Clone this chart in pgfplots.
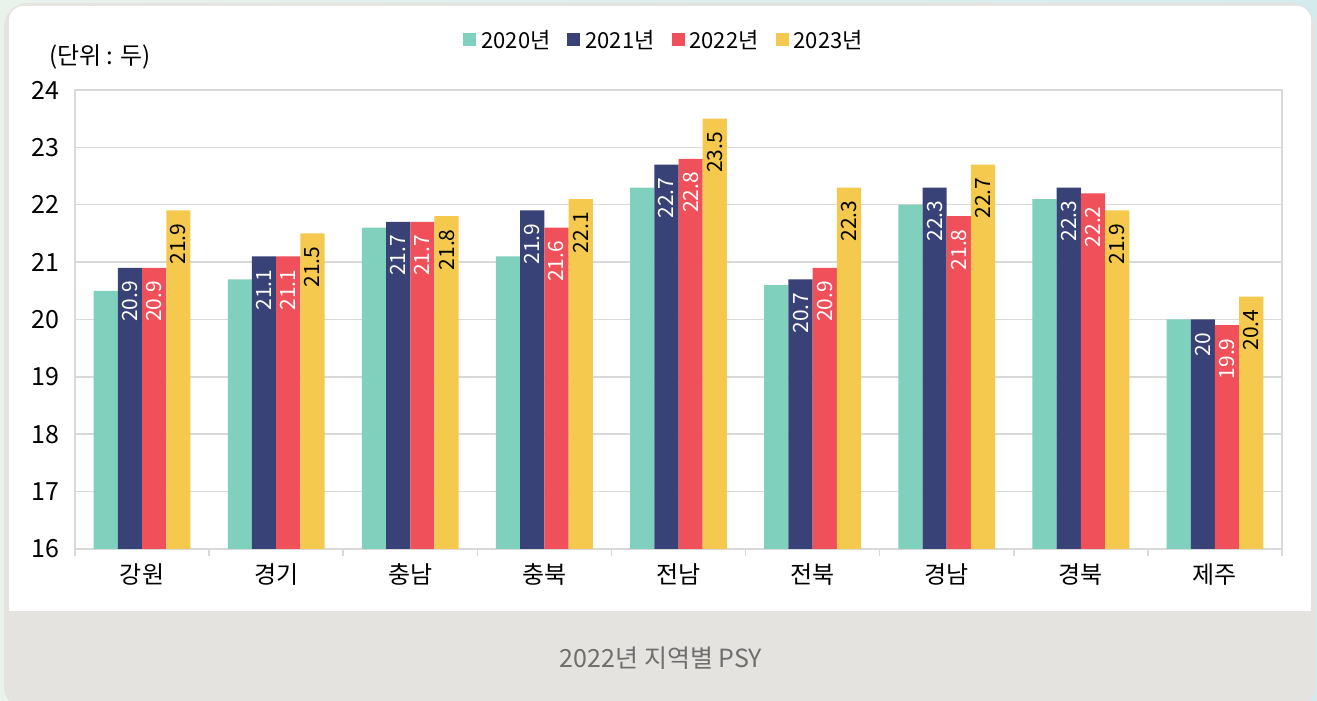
\documentclass[border=0pt]{standalone}
\usepackage{pgfplots}
\pgfplotsset{compat=1.18}
\usepackage{fontspec}
\setmainfont{Noto Sans CJK KR}
\definecolor{cA}{HTML}{7FD1BE}
\definecolor{cB}{HTML}{384277}
\definecolor{cC}{HTML}{EF505A}
\definecolor{cD}{HTML}{F5C84E}
\definecolor{gridgray}{HTML}{D9D9D9}
\definecolor{band}{HTML}{E4E3DF}
\definecolor{bgL}{HTML}{EAF2EC}
\definecolor{bgR}{HTML}{D4EBEE}
\definecolor{titlegray}{HTML}{6E6E6E}
\newcommand{\fs}[1]{\fontsize{#1bp}{#1bp}\selectfont}
\pgfplotsset{
  sq legend/.style={legend image code/.code={\fill[##1] (0bp,-6.5bp) rectangle (13bp,6.5bp);}},
  vlabel/.style={nodes near coords,
    every node near coord/.append style={rotate=90, anchor=east, inner xsep=13bp,
      inner ysep=0pt, font=\fs{21}, text=#1}},
}
\begin{document}
\begin{tikzpicture}[x=1bp,y=1bp]
\useasboundingbox (0,0) rectangle (1317,700);
\shade[left color=bgL, right color=bgR] (0,0) rectangle (1317,700);
\fill[band, rounded corners=24bp] (4,-10) rectangle (1315,697);
\fill[white, rounded corners=14bp] (9,89) rectangle (1311,694);
\fill[white] (9,89) rectangle (1311,130);
\node[font=\fs{24}] at (100,643) {(단위 : 두)};
\node[font=\fs{25}, text=titlegray] at (661,42) {2022년 지역별 PSY};
\begin{axis}[
  at={(75bp,151bp)}, anchor=south west,
  scale only axis, width=1207bp, height=459bp,
  ybar=0pt, bar width=24.2bp,
  xmin=-0.5, xmax=8.5, ymin=16, ymax=24,
  xtick={0,...,8},
  xticklabels={강원,경기,충남,충북,전남,전북,경남,경북,제주},
  minor xtick={-0.5,0.5,...,8.5},
  ytick={16,...,24},
  xtick pos=lower, ytick pos=left,
  major tick length=0pt, minor tick length=7bp, tick align=outside,
  minor tick style={draw=gridgray, line width=1.5bp},
  axis line style={draw=gridgray, line width=1.5bp},
  ymajorgrids, grid style={draw=gridgray, line width=1.5bp},
  /pgf/number format/assume math mode=true,
  xticklabel style={font=\fs{24}, yshift=-11bp},
  yticklabel style={font=\fs{25}, xshift=-12bp},
  legend style={at={(0.488,1.109)}, anchor=center, draw=none, fill=none,
    legend columns=4, font=\fs{22},
    /tikz/every odd column/.append style={column sep=3bp},
    /tikz/every even column/.append style={column sep=15bp}},
  legend cell align=left,
]
\addplot[fill=cA, draw=none, sq legend] coordinates {
  (0,20.5) (1,20.7) (2,21.6) (3,21.1) (4,22.3) (5,20.6) (6,22.0) (7,22.1) (8,20.0)};
\addplot[fill=cB, draw=none, sq legend, vlabel=white] coordinates {
  (0,20.9) (1,21.1) (2,21.7) (3,21.9) (4,22.7) (5,20.7) (6,22.3) (7,22.3) (8,20)};
\addplot[fill=cC, draw=none, sq legend, vlabel=white] coordinates {
  (0,20.9) (1,21.1) (2,21.7) (3,21.6) (4,22.8) (5,20.9) (6,21.8) (7,22.2) (8,19.9)};
\addplot[fill=cD, draw=none, sq legend, vlabel=black] coordinates {
  (0,21.9) (1,21.5) (2,21.8) (3,22.1) (4,23.5) (5,22.3) (6,22.7) (7,21.9) (8,20.4)};
\legend{2020년,2021년,2022년,2023년}
\end{axis}
\end{tikzpicture}
\end{document}
